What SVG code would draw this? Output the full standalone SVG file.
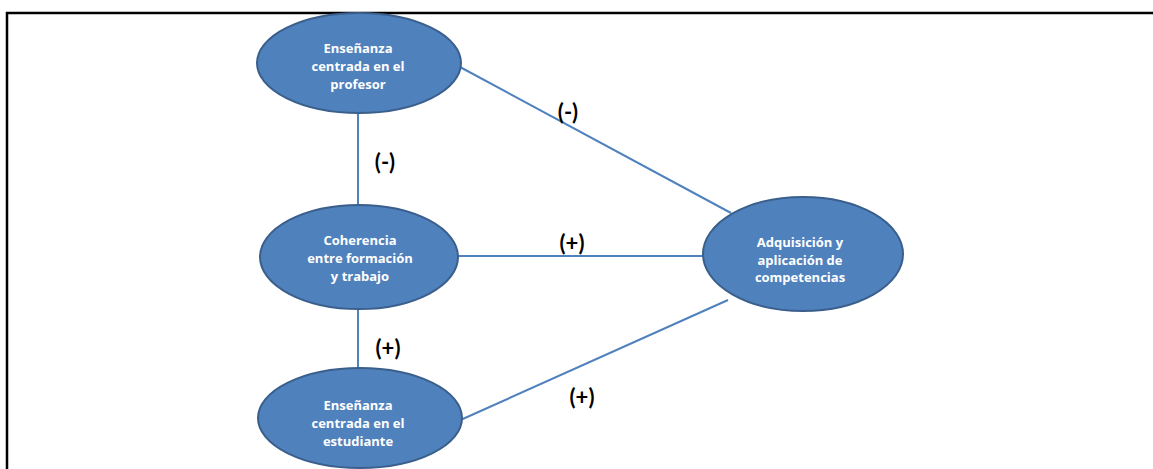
<svg xmlns="http://www.w3.org/2000/svg" width="1153" height="469" viewBox="0 0 1153 469">
<style>
.node{fill:#4F81BD;stroke:#3A5F8C;stroke-width:2}
.nt{font-family:"Open Sans",Lato,"Liberation Sans",sans-serif;font-weight:bold;font-size:13px;fill:#fff;text-anchor:middle}
.lab{font-family:Lato,"Liberation Sans",sans-serif;font-weight:bold;font-size:22px;fill:#000;text-anchor:middle}
.conn{stroke:#4F81BD;stroke-width:2;fill:none}
</style>
<rect width="1153" height="469" fill="#fff"/>
<g id="frame"><path d="M7 469 V13 H1153" fill="none" stroke="#000" stroke-width="2.5"/></g>
<g id="connectors">
<line class="conn" x1="358" y1="112" x2="358" y2="206"/>
<line class="conn" x1="358" y1="308" x2="358" y2="368"/>
<line class="conn" x1="458" y1="256" x2="703" y2="256"/>
<line class="conn" x1="460" y1="67" x2="731" y2="213"/>
<line class="conn" x1="456" y1="422" x2="728" y2="300"/>
</g>
<g id="labels">
<text class="lab" x="568" y="120">(-)</text>
<text class="lab" x="385" y="170">(-)</text>
<text class="lab" x="572" y="251">(+)</text>
<text class="lab" x="388" y="356">(+)</text>
<text class="lab" x="582" y="405">(+)</text>
</g>
<g id="node-profesor">
<ellipse class="node" cx="359" cy="63" rx="102" ry="50"/>
<text class="nt" x="358" y="53">Enseñanza</text>
<text class="nt" x="358" y="71">centrada en el</text>
<text class="nt" x="358" y="89">profesor</text>
</g>
<g id="node-coherencia">
<ellipse class="node" cx="359" cy="257" rx="99" ry="52"/>
<text class="nt" x="360" y="245">Coherencia</text>
<text class="nt" x="360" y="263">entre formación</text>
<text class="nt" x="360" y="281">y trabajo</text>
</g>
<g id="node-estudiante">
<ellipse class="node" cx="360" cy="418" rx="102" ry="50"/>
<text class="nt" x="358" y="410">Enseñanza</text>
<text class="nt" x="358" y="428">centrada en el</text>
<text class="nt" x="358" y="446">estudiante</text>
</g>
<g id="node-competencias">
<ellipse class="node" cx="803" cy="254" rx="100" ry="57"/>
<text class="nt" x="800" y="247">Adquisición y</text>
<text class="nt" x="800" y="265">aplicación de</text>
<text class="nt" x="800" y="282">competencias</text>
</g>
</svg>
